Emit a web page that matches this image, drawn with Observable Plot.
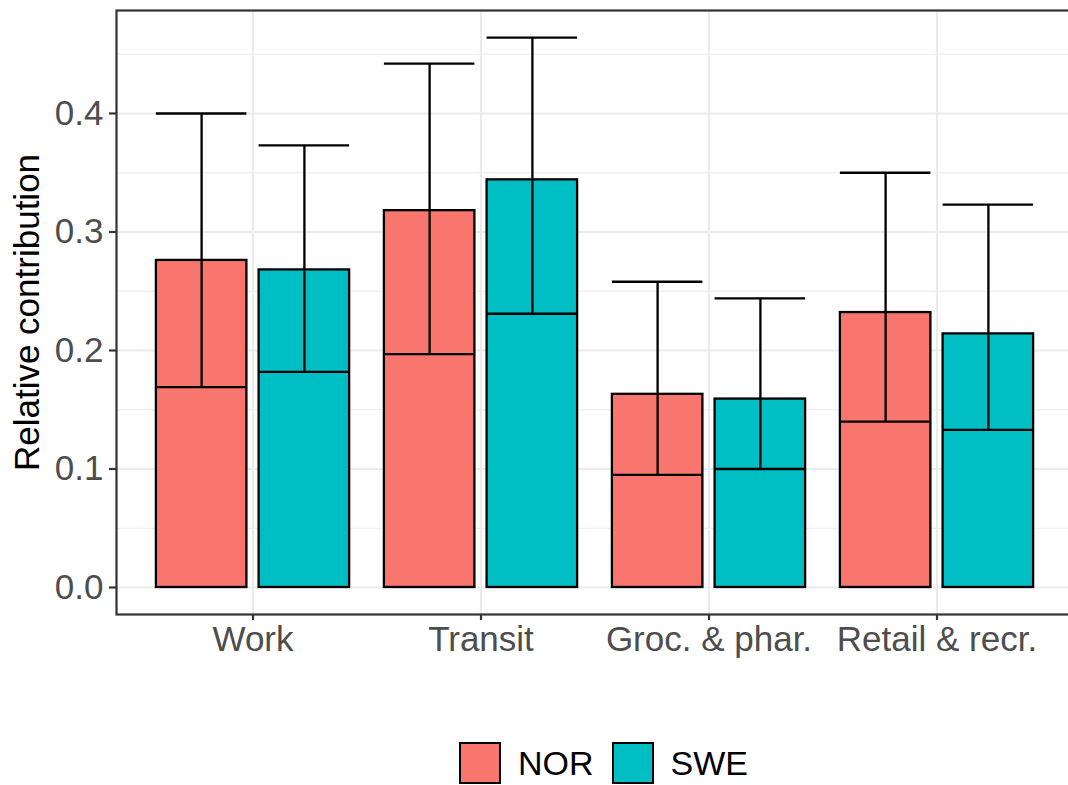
<!DOCTYPE html>
<html>
<head>
<meta charset="utf-8">
<script src="https://cdn.jsdelivr.net/npm/d3@7"></script>
<script src="https://cdn.jsdelivr.net/npm/@observablehq/plot@0.6"></script>
<style>
  html, body { margin: 0; padding: 0; background: #fff; overflow: hidden; }
  #wrap { position: relative; width: 1068px; height: 785px; font-family: "Liberation Sans", Arial, sans-serif; }
  #legend { position: absolute; left: 459px; top: 742px; display: flex; align-items: center; font-size: 34px; color: #000; }
  .key { width: 38px; height: 38px; border: 2px solid #000; box-sizing: content-box; }
  .lab { margin-left: 17px; margin-right: 18px; line-height: 40px; }
</style>
</head>
<body>
<div id="wrap"><div id="chart"></div><div id="legend"></div></div>
<script>
const categories = ["Work", "Transit", "Groc. & phar.", "Retail & recr."];
const countries = ["NOR", "SWE"];
const colors = ["#F8766D", "#00BFC4"];
const norValues = [0.276, 0.318, 0.163, 0.232];
const norLower  = [0.169, 0.197, 0.095, 0.140];
const norUpper  = [0.400, 0.442, 0.258, 0.350];
const sweValues = [0.268, 0.344, 0.159, 0.214];
const sweLower  = [0.182, 0.231, 0.100, 0.133];
const sweUpper  = [0.373, 0.464, 0.244, 0.323];
const yTicks = [0, 0.1, 0.2, 0.3, 0.4];
const yMinor = [0.05, 0.15, 0.25, 0.35, 0.45];
const yTitle = "Relative contribution";

const nor = categories.map((c, i) => ({cat: c, country: "NOR", v: norValues[i], lo: norLower[i], hi: norUpper[i]}));
const swe = categories.map((c, i) => ({cat: c, country: "SWE", v: sweValues[i], lo: sweLower[i], hi: sweUpper[i]}));

const near = 5.9, far = 108.6, off = 51.4;
const lineStyle = {stroke: "black", strokeWidth: 2.3};

const chart = Plot.plot({
  width: 1068,
  height: 700,
  marginLeft: 116,
  marginRight: -6,
  marginTop: 10,
  marginBottom: 86,
  style: {fontFamily: "Liberation Sans, Arial, sans-serif", background: "white", overflow: "visible"},
  x: {domain: categories, paddingInner: 0.1, paddingOuter: 0.1447, axis: null},
  y: {domain: [-0.0228, 0.4869], axis: null},
  color: {domain: countries, range: colors},
  marks: [
    Plot.gridY(yMinor, {stroke: "#ebebeb", strokeOpacity: 1, strokeWidth: 1.1}),
    Plot.gridY(yTicks, {stroke: "#ebebeb", strokeOpacity: 1, strokeWidth: 2.2}),
    Plot.gridX(categories, {stroke: "#ebebeb", strokeOpacity: 1, strokeWidth: 2.2}),
    Plot.barY(nor, {x: "cat", y: "v", fill: "country", ...lineStyle, insetLeft: near, insetRight: far}),
    Plot.barY(swe, {x: "cat", y: "v", fill: "country", ...lineStyle, insetLeft: far, insetRight: near}),
    Plot.ruleX(nor, {x: "cat", y1: "lo", y2: "hi", dx: -off, ...lineStyle}),
    Plot.ruleX(swe, {x: "cat", y1: "lo", y2: "hi", dx: off, ...lineStyle}),
    Plot.tickY(nor, {x: "cat", y: "hi", insetLeft: near, insetRight: far, ...lineStyle}),
    Plot.tickY(nor, {x: "cat", y: "lo", insetLeft: near, insetRight: far, ...lineStyle}),
    Plot.tickY(swe, {x: "cat", y: "hi", insetLeft: far, insetRight: near, ...lineStyle}),
    Plot.tickY(swe, {x: "cat", y: "lo", insetLeft: far, insetRight: near, ...lineStyle}),
    Plot.frame({stroke: "#333333", strokeWidth: 2.2}),
    Plot.axisY(yTicks, {tickSize: 7, tickPadding: 6, tickFormat: d3.format(".1f"), fontSize: 35, color: "#4d4d4d", stroke: "#333333", strokeWidth: 2.2, label: null}),
    Plot.axisX({tickSize: 6, tickPadding: 6, fontSize: 35, color: "#4d4d4d", stroke: "#333333", strokeWidth: 2.2, label: null}),
    Plot.text([yTitle], {frameAnchor: "left", dx: -89, rotate: -90, fontSize: 35, fill: "black", textAnchor: "middle", lineAnchor: "middle"})
  ]
});
document.getElementById("chart").appendChild(chart);

const legend = document.getElementById("legend");
countries.forEach((c, i) => {
  const k = document.createElement("div");
  k.className = "key";
  k.style.background = colors[i];
  const t = document.createElement("div");
  t.className = "lab";
  t.textContent = c;
  legend.appendChild(k);
  legend.appendChild(t);
});
</script>
</body>
</html>
